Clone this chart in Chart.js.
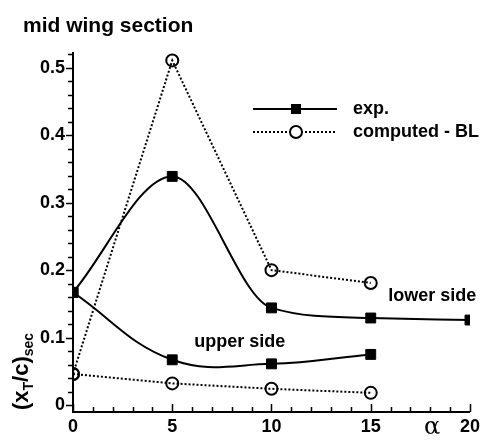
<!DOCTYPE html>
<html>
<head>
<meta charset="utf-8">
<script src="https://cdn.jsdelivr.net/npm/chart.js@4.4.0/dist/chart.umd.min.js"></script>
<style>
  html, body { margin: 0; padding: 0; background: #fff; }
  #wrap { width: 484px; height: 440px; }
</style>
</head>
<body>
<div id="wrap"><canvas id="chart" width="484" height="440"></canvas></div>
<script>
// angle of attack and transition location, mid wing section
const alpha = [0, 5, 10, 15, 20];
const expLower = [0.167, 0.339, 0.144, 0.129, 0.126];
const expUpper = [0.167, 0.067, 0.061, 0.075];
const blLower = [0.046, 0.511, 0.200, 0.181];
const blUpper = [0.046, 0.032, 0.024, 0.018];

const xTicks = [0, 5, 10, 15, 20];
const yTicks = [0, 0.1, 0.2, 0.3, 0.4, 0.5];

const BOLD = "bold 18px 'Liberation Sans', Arial, sans-serif";

function pts(ys) {
  return ys.map((y, i) => ({ x: alpha[i], y }));
}

const expStyle = {
  borderColor: "#000",
  backgroundColor: "#000",
  borderWidth: 2,
  pointStyle: "rect",
  pointRadius: 7,
  pointBorderWidth: 1,
  tension: 0.4,
};
const blStyle = {
  borderColor: "#000",
  backgroundColor: "#fff",
  borderWidth: 2,
  borderDash: [2, 2],
  pointStyle: "circle",
  pointRadius: 6,
  pointBorderWidth: 2,
  pointBackgroundColor: "rgba(0,0,0,0)",
  tension: 0,
};

// ticks, legend and labels drawn on top
const decor = {
  id: "decor",
  afterDraw(chart) {
    const ctx = chart.ctx;
    const xs = chart.scales.x;
    const ys = chart.scales.y;
    const area = chart.chartArea;
    ctx.save();
    ctx.strokeStyle = "#000";
    ctx.lineWidth = 1.5;
    ctx.setLineDash([]);

    // x ticks, pointing into the plot
    for (let v = 0; v <= 20; v++) {
      const px = Math.round(xs.getPixelForValue(v)) + 0.5;
      const len = v % 5 === 0 ? 8 : 5;
      ctx.beginPath();
      ctx.moveTo(px, area.bottom);
      ctx.lineTo(px, area.bottom - len);
      ctx.stroke();
    }
    // y ticks, pointing out
    for (let k = 0; k <= 26; k++) {
      const v = k * 0.02;
      const py = Math.round(ys.getPixelForValue(v)) + 0.5;
      const len = k % 5 === 0 ? 7 : 5;
      ctx.beginPath();
      ctx.moveTo(area.left, py);
      ctx.lineTo(area.left - len, py);
      ctx.stroke();
    }

    // title
    ctx.fillStyle = "#000";
    ctx.font = "bold 21px 'Liberation Sans', Arial, sans-serif";
    ctx.textAlign = "left";
    ctx.textBaseline = "alphabetic";
    ctx.fillText("mid wing section", 23, 32);

    // legend
    const rows = [
      { label: "exp.", y: 109, dash: [], style: "rect" },
      { label: "computed - BL", y: 132, dash: [2, 2], style: "circle" },
    ];
    rows.forEach((r) => {
      ctx.lineWidth = 2;
      ctx.setLineDash(r.dash);
      ctx.beginPath();
      ctx.moveTo(253, r.y);
      ctx.lineTo(337, r.y);
      ctx.stroke();
      ctx.setLineDash([]);
      if (r.style === "rect") {
        ctx.fillRect(291, r.y - 5, 10, 10);
      } else {
        ctx.fillStyle = "#fff";
        ctx.beginPath();
        ctx.arc(296, r.y, 6, 0, Math.PI * 2);
        ctx.fill();
        ctx.stroke();
        ctx.fillStyle = "#000";
      }
      ctx.font = BOLD;
      ctx.textBaseline = "middle";
      ctx.fillText(r.label, 353, r.y);
    });

    // side labels, placed in data space
    ctx.textAlign = "center";
    ctx.fillText("lower side", xs.getPixelForValue(18.1), ys.getPixelForValue(0.162));
    ctx.fillText("upper side", xs.getPixelForValue(8.4), ys.getPixelForValue(0.093));

    // x axis title
    ctx.font = "24px 'DejaVu Serif', 'Liberation Serif', serif";
    ctx.fillText("\u03b1", 432, 428);

    // y axis title (x_T/c)_sec, rotated
    ctx.translate(28, 362);
    ctx.rotate(-Math.PI / 2);
    ctx.textAlign = "left";
    ctx.textBaseline = "alphabetic";
    const big = "bold 22px 'Liberation Sans', Arial, sans-serif";
    const small = "bold 14px 'Liberation Sans', Arial, sans-serif";
    let cx = -48;
    const part = (txt, font, dy) => {
      ctx.font = font;
      ctx.fillText(txt, cx, dy);
      cx += ctx.measureText(txt).width;
    };
    part("(x", big, 0);
    part("T", small, 5);
    part("/c)", big, 0);
    part("sec", small, 5);
    ctx.restore();
  },
};

new Chart(document.getElementById("chart"), {
  type: "line",
  data: {
    datasets: [
      { label: "exp.", data: pts(expLower), ...expStyle, cubicInterpolationMode: "monotone" },
      { label: "exp. upper", data: pts(expUpper), ...expStyle },
      { label: "computed - BL", data: pts(blLower), ...blStyle },
      { label: "computed - BL upper", data: pts(blUpper), ...blStyle },
    ],
  },
  options: {
    responsive: false,
    animation: false,
    layout: { padding: { top: 53, right: 14, left: 0, bottom: 0 } },
    plugins: { legend: { display: false }, tooltip: { enabled: false } },
    scales: {
      x: {
        type: "linear",
        min: 0,
        max: 20,
        afterBuildTicks: (s) => { s.ticks = xTicks.map((v) => ({ value: v })); },
        afterFit: (s) => { s.height = 28; },
        grid: { display: false, drawTicks: false },
        border: { display: true, color: "#000", width: 2 },
        ticks: {
          color: "#000",
          font: { family: "'Liberation Sans', Arial, sans-serif", size: 18, weight: "bold" },
          padding: 4,
          maxRotation: 0,
        },
      },
      y: {
        type: "linear",
        min: -0.0104,
        max: 0.522,
        afterBuildTicks: (s) => { s.ticks = yTicks.map((v) => ({ value: v })); },
        afterFit: (s) => { s.width = 73; },
        grid: { display: false, drawTicks: false },
        border: { display: true, color: "#000", width: 2 },
        ticks: {
          color: "#000",
          font: { family: "'Liberation Sans', Arial, sans-serif", size: 18, weight: "bold" },
          padding: 8,
          callback: (v) => (v === 0 ? "0" : v.toFixed(1)),
        },
      },
    },
  },
  plugins: [decor],
});
</script>
</body>
</html>
